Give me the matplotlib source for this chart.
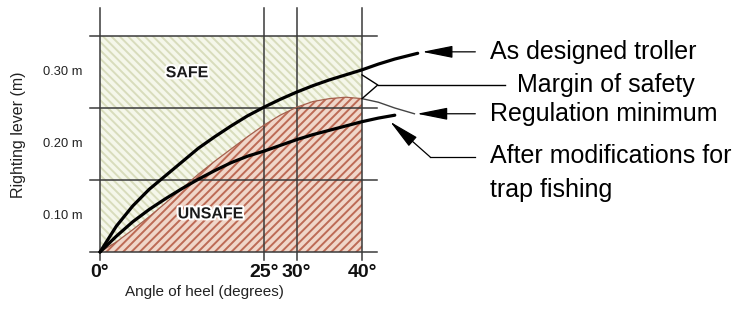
import matplotlib
matplotlib.use('Agg')
import matplotlib.pyplot as plt
import matplotlib.patheffects as pe
import numpy as np

plt.rcParams['font.family'] = ['Liberation Sans', 'DejaVu Sans']
plt.rcParams['hatch.linewidth'] = 1.4

# angles of heel (degrees) and righting lever (m)
angles_designed = [0, 2.5, 5, 7.5, 10, 12.5, 15, 17.5, 20, 22.5, 25, 27.5, 30,
                   32.5, 35, 37.5, 40, 42.5, 45, 48.5]
lever_designed = [0.05, 0.086, 0.114, 0.137, 0.156, 0.175, 0.194, 0.210, 0.225,
                  0.239, 0.251, 0.262, 0.272, 0.281, 0.289, 0.296, 0.303, 0.311,
                  0.318, 0.326]

angles_modified = [0, 2.5, 5, 7.5, 10, 12.5, 15, 17.5, 20, 22.5, 25, 27.5, 30,
                   32.5, 35, 37.5, 40, 42.5, 45]
lever_modified = [0.05, 0.072, 0.092, 0.109, 0.124, 0.138, 0.151, 0.163, 0.174,
                  0.183, 0.19, 0.198, 0.206, 0.213, 0.219, 0.225, 0.231, 0.236,
                  0.24]

angles_minimum = [0, 2.5, 5, 7.5, 10, 12.5, 15, 17.5, 20, 22.5, 25, 27.5, 30,
                  32.5, 35, 37.5, 40, 42.5, 45, 48]
lever_minimum = [0.05, 0.064, 0.081, 0.099, 0.118, 0.138, 0.158, 0.176, 0.193,
                 0.21, 0.226, 0.24, 0.251, 0.259, 0.263, 0.265, 0.263, 0.258,
                 0.25, 0.242]

x_ticks = [0, 25, 30, 40]
x_labels = ['0°', '25°', '30°', '40°']
y_grid = [0.05, 0.15, 0.25, 0.35]
y_ticks = [0.10, 0.20, 0.30]
y_labels = ['0.10 m', '0.20 m', '0.30 m']

legend_labels = ['As designed troller', 'Margin of safety', 'Regulation minimum',
                 'After modifications for', 'trap fishing']

fig = plt.figure(figsize=(7.41, 3.14), dpi=100)
ax = fig.add_axes([0, 0, 1, 1])
ax.set_xlim(-15.27, 97.86)
ax.set_ylim(-0.0361, 0.40)
ax.axis('off')

# safe region (whole box) and unsafe region under the regulation curve
ax.fill_between([0, 40], 0.05, 0.35, facecolor='#f5f7ea', edgecolor='#d8dcbc',
                hatch='\\\\\\\\', linewidth=0, zorder=1)
a_min = np.array(angles_minimum)
l_min = np.array(lever_minimum)
inside = a_min <= 40
ax.fill_between(a_min[inside], 0.05, l_min[inside], facecolor='#f0d6c9',
                edgecolor='#bd6a55', hatch='////', linewidth=0, zorder=2)

# grid
for xv in x_ticks:
    ax.plot([xv, xv], [0.039, 0.389], color='#3a3a3a', lw=1.1, zorder=3)
for yv in y_grid:
    ax.plot([-1.5, 42.3], [yv, yv], color='#3a3a3a', lw=1.1, zorder=3)

# curves
ax.plot(a_min[inside], l_min[inside], color='#a5604e', lw=0.9, zorder=3)
ax.plot(a_min[a_min >= 40], l_min[a_min >= 40], color='#444444', lw=1.0, zorder=3)
ax.plot(angles_designed, lever_designed, color='black', lw=2.3,
        solid_capstyle='round', zorder=4)
ax.plot(angles_modified, lever_modified, color='black', lw=2.3,
        solid_capstyle='round', zorder=4)

# tick labels
for xv, lab in zip(x_ticks, x_labels):
    ax.text(xv, 0.022, lab, ha='center', va='center', fontsize=14,
            fontweight='bold', color='#111111')
for yv, lab in zip(y_ticks, y_labels):
    ax.text(-2.75, yv, lab, ha='right', va='center', fontsize=9.3, color='#222222')
ax.text(16.0, -0.006, 'Angle of heel (degrees)', ha='center', va='center',
        fontsize=11, color='#222222')
ax.text(-12.5, 0.2125, 'Righting lever (m)', ha='center', va='center',
        rotation=90, fontsize=11.5, color='#222222')

halo = [pe.withStroke(linewidth=3, foreground='white')]
ax.text(13.3, 0.299, 'SAFE', ha='center', va='center', fontsize=11.5,
        fontweight='bold', color='#1a1a1a', path_effects=halo, zorder=5)
ax.text(16.9, 0.103, 'UNSAFE', ha='center', va='center', fontsize=11.5,
        fontweight='bold', color='#1a1a1a', path_effects=halo, zorder=5)

# callouts
text_x = 59.5
fs = 18
head = dict(arrowstyle='-|>,head_length=1.9,head_width=0.38', color='black',
            lw=0.9, shrinkA=0, shrinkB=0, mutation_scale=10)
ax.annotate('', xy=(angles_designed[-1] + 0.7, lever_designed[-1] + 0.002),
            xytext=(text_x - 2.2, lever_designed[-1] + 0.002), arrowprops=head)
ax.text(text_x, lever_designed[-1] + 0.002, legend_labels[0], ha='left',
        va='center', fontsize=fs)

ax.annotate('', xy=(angles_minimum[-1] + 0.4, lever_minimum[-1]),
            xytext=(text_x - 2.2, lever_minimum[-1]), arrowprops=head)
ax.text(text_x, lever_minimum[-1], legend_labels[2], ha='left', va='center',
        fontsize=fs)

bend = (50.4, 0.182)
ax.plot([bend[0], text_x - 2.2], [bend[1], bend[1]], color='black', lw=0.9)
ax.annotate('', xy=(angles_modified[-1] - 0.7, lever_modified[-1] - 0.009),
            xytext=bend, arrowprops=head)
ax.text(text_x, 0.183, legend_labels[3], ha='left', va='center', fontsize=fs)
ax.text(text_x, 0.136, legend_labels[4], ha='left', va='center', fontsize=fs)

# margin of safety bracket
top = lever_designed[angles_designed.index(40)] - 0.007
bot = lever_minimum[angles_minimum.index(40)]
mid = 0.282
ax.plot([40, 42.4, 40], [top, mid, bot], color='black', lw=1.0, zorder=4)
ax.plot([42.4, 61.8], [mid, mid], color='black', lw=1.0)
ax.text(63.7, mid, legend_labels[1], ha='left', va='center', fontsize=fs)

fig.savefig('out.png', dpi=100)
